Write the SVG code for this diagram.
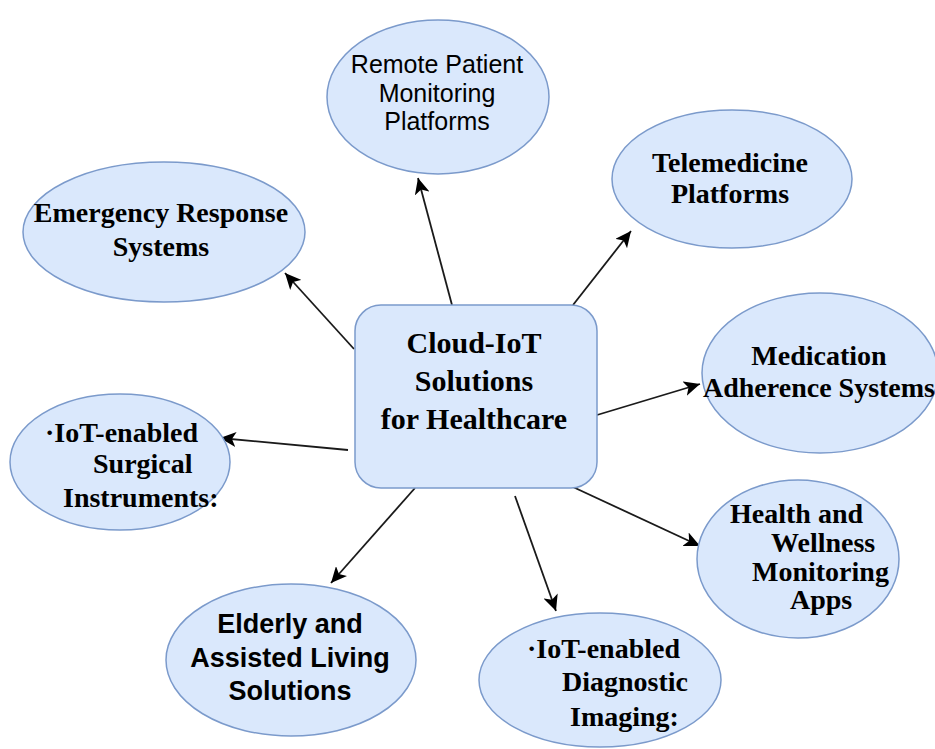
<svg xmlns="http://www.w3.org/2000/svg" width="935" height="749" viewBox="0 0 935 749">
  <style>
    .node { fill: #dae8fc; stroke: #7b9acb; stroke-width: 1.5; }
    .serif { font-family: "Liberation Serif", "Times New Roman", serif; font-weight: bold; font-size: 28px; fill: #000; }
    .sans { font-family: "Liberation Sans", Arial, sans-serif; font-size: 25px; fill: #000; }
    .sansb { font-family: "Liberation Sans", Arial, sans-serif; font-weight: bold; font-size: 27px; fill: #000; }
    .mid { text-anchor: middle; }
    .edge { stroke: #1a1a1a; stroke-width: 1.8; fill: none; marker-end: url(#arrow); }
  </style>
  <defs>
    <marker id="arrow" markerUnits="userSpaceOnUse" markerWidth="17" markerHeight="15" refX="16" refY="7.5" orient="auto">
      <path d="M0,0 L16,7.5 L0,15 L4,7.5 z" fill="#000"/>
    </marker>
  </defs>
  <rect width="935" height="749" fill="#fff"/>

  <!-- connectors from the hub to each solution -->
  <g id="connectors">
    <line class="edge" x1="452" y1="305" x2="418" y2="178"/>
    <line class="edge" x1="573" y1="305" x2="631" y2="231"/>
    <line class="edge" x1="354" y1="349" x2="285" y2="273"/>
    <line class="edge" x1="597" y1="415" x2="700" y2="384"/>
    <line class="edge" x1="348" y1="450" x2="220" y2="438"/>
    <line class="edge" x1="573" y1="487" x2="700" y2="546"/>
    <line class="edge" x1="415" y1="488" x2="331" y2="583"/>
    <line class="edge" x1="515" y1="496" x2="556" y2="611"/>
  </g>

  <g id="hub">
    <rect class="node" x="355" y="305" width="242" height="183" rx="26" ry="26"/>
    <text class="serif mid" x="474" y="353" style="font-size:30px">Cloud-IoT</text>
    <text class="serif mid" x="474" y="391" style="font-size:30px">Solutions</text>
    <text class="serif mid" x="474" y="429" style="font-size:30px">for Healthcare</text>
  </g>

  <g id="remote-monitoring">
    <ellipse class="node" cx="438" cy="97" rx="111" ry="77"/>
    <text class="sans mid" x="437" y="73">Remote Patient</text>
    <text class="sans mid" x="437" y="102">Monitoring</text>
    <text class="sans mid" x="437" y="130">Platforms</text>
  </g>

  <g id="telemedicine">
    <ellipse class="node" cx="732" cy="179" rx="120" ry="69"/>
    <text class="serif mid" x="730" y="172">Telemedicine</text>
    <text class="serif mid" x="730" y="203">Platforms</text>
  </g>

  <g id="emergency">
    <ellipse class="node" cx="164" cy="232" rx="141" ry="70"/>
    <text class="serif mid" x="161" y="222">Emergency Response</text>
    <text class="serif mid" x="161" y="256">Systems</text>
  </g>

  <g id="medication">
    <ellipse class="node" cx="820" cy="373" rx="118" ry="80"/>
    <text class="serif mid" x="819" y="365">Medication</text>
    <text class="serif mid" x="819" y="397">Adherence Systems</text>
  </g>

  <g id="surgical">
    <ellipse class="node" cx="120" cy="462" rx="110" ry="68"/>
    <text class="serif" x="45" y="442">·IoT-enabled</text>
    <text class="serif" x="93" y="473">Surgical</text>
    <text class="serif" x="63" y="507">Instruments:</text>
  </g>

  <g id="wellness">
    <ellipse class="node" cx="798" cy="559" rx="101" ry="79"/>
    <text class="serif" x="730" y="523">Health and</text>
    <text class="serif" x="771" y="552">Wellness</text>
    <text class="serif" x="752" y="581">Monitoring</text>
    <text class="serif" x="790" y="609">Apps</text>
  </g>

  <g id="elderly">
    <ellipse class="node" cx="291" cy="660" rx="125" ry="76"/>
    <text class="sansb mid" x="290" y="633">Elderly and</text>
    <text class="sansb mid" x="290" y="667">Assisted Living</text>
    <text class="sansb mid" x="290" y="700">Solutions</text>
  </g>

  <g id="diagnostic">
    <ellipse class="node" cx="600" cy="680" rx="121" ry="67"/>
    <text class="serif" x="527" y="658">·IoT-enabled</text>
    <text class="serif" x="562" y="691">Diagnostic</text>
    <text class="serif" x="570" y="726">Imaging:</text>
  </g>
</svg>
